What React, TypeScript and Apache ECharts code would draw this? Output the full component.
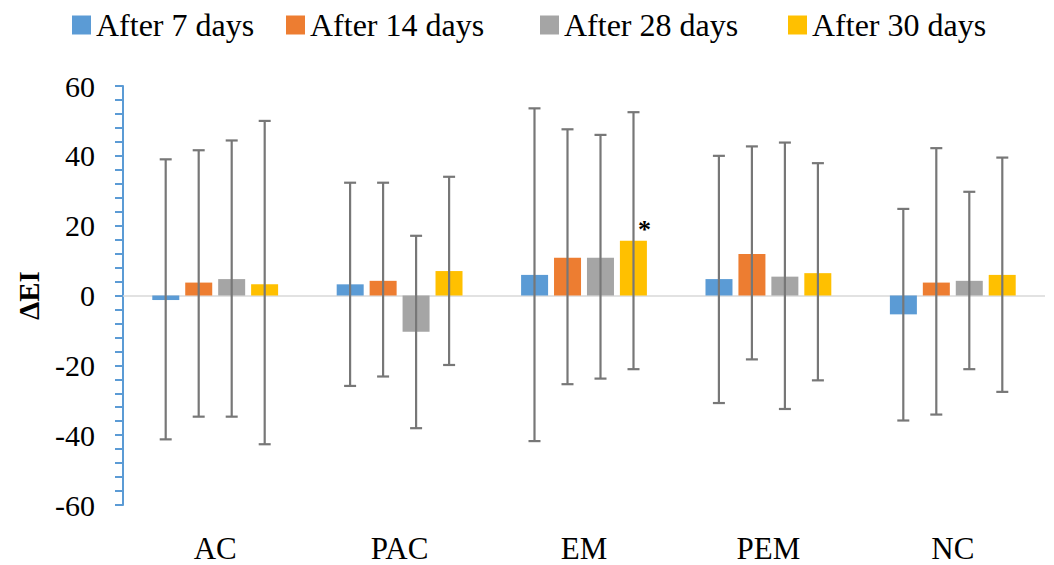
import React, { useEffect, useRef } from 'react';
import * as echarts from 'echarts';

const categories = ['AC', 'PAC', 'EM', 'PEM', 'NC'];
const seriesNames = ['After 7 days', 'After 14 days', 'After 28 days', 'After 30 days'];

const mean7 = [-1.3, 3.2, 5.9, 4.7, -5.4];
const mean14 = [3.7, 4.2, 10.8, 11.9, 3.7];
const mean28 = [4.7, -10.4, 10.8, 5.4, 4.2];
const mean30 = [3.2, 7.0, 15.7, 6.4, 5.9];

const low7 = [-41.2, -25.9, -41.7, -30.8, -35.8];
const high7 = [39.0, 32.3, 53.6, 40.0, 24.8];
const low14 = [-34.7, -23.2, -25.4, -18.3, -34.1];
const high14 = [41.6, 32.3, 47.6, 42.7, 42.2];
const low28 = [-34.7, -38.0, -23.8, -32.5, -21.1];
const high28 = [44.4, 17.1, 46.0, 43.8, 29.7];
const low30 = [-42.6, -19.9, -21.1, -24.3, -27.6];
const high30 = [50.0, 34.0, 52.5, 37.9, 39.5];

const sig30 = ['', '', '*', '', ''];

const yMin = -60;
const yMax = 60;
const yInterval = 20;

const colors = ['#5B9BD5', '#ED7D31', '#A5A5A5', '#FFC000'];
const FONT = 'Liberation Serif';

export default function App() {
  const ref = useRef<HTMLDivElement>(null);

  useEffect(() => {
    document.body.style.margin = '0';
    if (!ref.current) return;
    const chart = echarts.init(ref.current, undefined, { renderer: 'svg' });
    const means = [mean7, mean14, mean28, mean30];
    const lows = [low7, low14, low28, low30];
    const highs = [high7, high14, high28, high30];
    const sigs = [null, null, null, sig30];
    const barW = 27;
    const step = 33;
    const legendLefts = [67, 281, 535, 783];

    const barSeries = seriesNames.map((name, si) => ({
      name,
      type: 'bar',
      barWidth: barW,
      barGap: '22%',
      itemStyle: { color: colors[si] },
      data: means[si].map((v, i) => {
        const s = sigs[si] ? sigs[si]![i] : '';
        return s
          ? {
              value: v,
              label: {
                show: true,
                position: 'top',
                formatter: s,
                offset: [11, 7],
                fontFamily: FONT,
                fontWeight: 'bold',
                fontSize: 26,
                color: '#000',
              },
            }
          : v;
      }),
      z: 2,
      ...(si === 0
        ? {
            markLine: {
              silent: true,
              symbol: 'none',
              label: { show: false },
              lineStyle: { color: '#D9D9D9', width: 1.5, type: 'solid' },
              data: [{ yAxis: 0 }],
              z: 1,
            },
          }
        : {}),
    }));

    const errSeries = seriesNames.map((name, si) => ({
      name: name + ' error',
      type: 'custom',
      z: 5,
      silent: true,
      renderItem: (params: any, api: any) => {
        const x = api.value(0);
        const lo = api.coord([x, api.value(1)]);
        const hi = api.coord([x, api.value(2)]);
        const cx = lo[0] + (si - 1.5) * step;
        const half = 6;
        const style = { stroke: '#777777', lineWidth: 2.2 };
        return {
          type: 'group',
          children: [
            { type: 'line', shape: { x1: cx, y1: hi[1], x2: cx, y2: lo[1] }, style },
            { type: 'line', shape: { x1: cx - half, y1: hi[1], x2: cx + half, y2: hi[1] }, style },
            { type: 'line', shape: { x1: cx - half, y1: lo[1], x2: cx + half, y2: lo[1] }, style },
          ],
        };
      },
      encode: { x: 0, y: [1, 2] },
      data: categories.map((c, i) => [i, lows[si][i], highs[si][i]]),
    }));

    chart.setOption({
      animation: false,
      color: colors,
      textStyle: { fontFamily: FONT },
      legend: seriesNames.map((name, si) => ({
        data: [name],
        left: legendLefts[si],
        top: 4,
        icon: 'rect',
        itemWidth: 19,
        itemHeight: 19,
        itemGap: 10,
        selectedMode: false,
        textStyle: { fontFamily: FONT, fontSize: 32, color: '#000' },
      })),
      grid: { left: 123, right: 9, top: 86, bottom: 60, containLabel: false },
      xAxis: {
        type: 'category',
        data: categories,
        position: 'bottom',
        axisLine: { show: false, onZero: false },
        axisTick: { show: false },
        axisLabel: { fontFamily: FONT, fontSize: 31, color: '#000', margin: 28 },
      },
      yAxis: {
        type: 'value',
        min: yMin,
        max: yMax,
        interval: yInterval,
        name: 'ΔEI',
        nameLocation: 'middle',
        nameRotate: 90,
        nameGap: 80,
        nameTextStyle: { fontFamily: FONT, fontSize: 29, fontWeight: 'bold', color: '#000' },
        axisLine: { show: true, lineStyle: { color: '#5B9BD5', width: 2 } },
        axisTick: { show: true, length: 8, lineStyle: { color: '#5B9BD5', width: 2 } },
        minorTick: { show: true, splitNumber: 5, length: 8, lineStyle: { color: '#5B9BD5', width: 2 } },
        splitLine: { show: false },
        axisLabel: { fontFamily: FONT, fontSize: 30, color: '#000', margin: 28 },
      },
      series: [...barSeries, ...errSeries],
    });

    return () => chart.dispose();
  }, []);

  return <div ref={ref} style={{ width: 1054, height: 565 }} />;
}
